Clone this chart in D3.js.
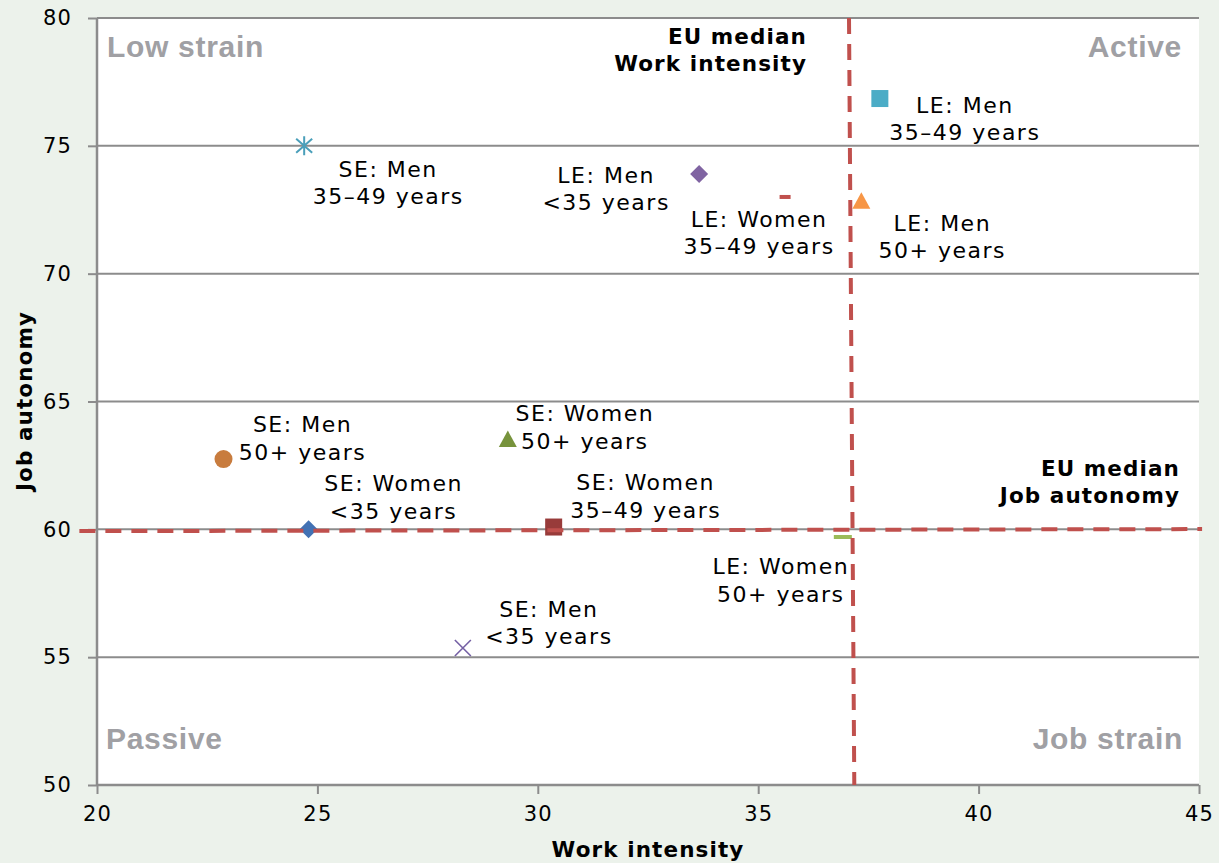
<!DOCTYPE html>
<html>
<head>
<meta charset="utf-8">
<script src="https://cdn.jsdelivr.net/npm/d3@7"></script>
<style>
  html, body { margin: 0; padding: 0; background: #ecf2eb; }
  svg { display: block; }
</style>
</head>
<body>
<svg id="chart" width="1219" height="863"></svg>
<script>
// ---- data ----
const groupLine1 = ["SE: Men", "LE: Men", "LE: Men", "LE: Women", "LE: Men", "SE: Men", "SE: Women", "SE: Women", "SE: Women", "LE: Women", "SE: Men"];
const groupLine2 = ["35–49 years", "35–49 years", "<35 years", "35–49 years", "50+ years", "50+ years", "50+ years", "<35 years", "35–49 years", "50+ years", "<35 years"];
const workIntensity = [24.70, 37.76, 33.66, 35.61, 37.34, 22.87, 29.32, 24.80, 30.36, 36.92, 28.30];
const jobAutonomy   = [75.00, 76.85, 73.90, 73.00, 72.85, 62.75, 63.53, 60.00, 60.09, 59.70, 55.36];

const xTicks = [20, 25, 30, 35, 40, 45];
const yTicks = [50, 55, 60, 65, 70, 75, 80];

// EU median reference lines (two points each)
const medianWorkX = [37.06, 37.18];
const medianWorkY = [80, 50];
const medianAutoX = [19.6, 45.07];
const medianAutoY = [59.93, 60.01];

const quadrantLabels = ["Low strain", "Active", "Passive", "Job strain"];

// ---- styles (not data) ----
const markerStyle = [
  {shape: "asterisk", color: "#4a9fba"},
  {shape: "square",   color: "#4bacc6"},
  {shape: "diamond",  color: "#8064a2"},
  {shape: "dash",     color: "#c0504d"},
  {shape: "triangle", color: "#f79646"},
  {shape: "circle",   color: "#c87c3e"},
  {shape: "triangle", color: "#77933c"},
  {shape: "diamond",  color: "#4272b4"},
  {shape: "square",   color: "#983b3a"},
  {shape: "dashwide", color: "#9bbb59"},
  {shape: "x",        color: "#7460a4"}
];
// label offset: [dx of centre, dy of first baseline] in px from marker
const labelOffset = [
  [84, 31], [85, 14], [-93, 9], [-26, 30], [81, 30], [79, -27],
  [77, -18], [85, -38], [92, -37], [-62, 37], [86, -31]
];

// ---- chart ----
const svg = d3.select("#chart");
const pLeft = 97, pRight = 1199, pTop = 18, pBottom = 785;
const x = d3.scaleLinear().domain([20, 45]).range([pLeft, pRight]);
const y = d3.scaleLinear().domain([50, 80]).range([pBottom, pTop]);

const gridColor = "#8c8c8c";

svg.append("rect").attr("x", pLeft).attr("y", pTop)
  .attr("width", pRight - pLeft).attr("height", pBottom - pTop).attr("fill", "#ffffff");

// gridlines
svg.append("g").selectAll("line").data(yTicks.filter(d => d > 50)).join("line")
  .attr("x1", pLeft).attr("x2", pRight)
  .attr("y1", d => y(d)).attr("y2", d => y(d))
  .attr("stroke", gridColor).attr("stroke-width", 2);

// axes
const yAxis = svg.append("g").attr("transform", `translate(${pLeft},0)`)
  .call(d3.axisLeft(y).tickValues(yTicks).tickSize(9).tickPadding(16));
const xAxis = svg.append("g").attr("transform", `translate(0,${pBottom})`)
  .call(d3.axisBottom(x).tickValues(xTicks).tickSize(9).tickPadding(12));
[yAxis, xAxis].forEach(g => {
  g.select(".domain").attr("stroke", gridColor).attr("stroke-width", 2.5);
  g.selectAll(".tick line").attr("stroke", gridColor).attr("stroke-width", 2);
  g.selectAll(".tick text").attr("fill", "#000")
    .style("font-family", "'DejaVu Sans', Verdana, sans-serif")
    .style("font-size", "21px").style("letter-spacing", "1.2px");
});
xAxis.select(".domain").attr("d", `M${pLeft},0H${pRight}`);
yAxis.select(".domain").attr("d", `M0,${pBottom}V${pTop}`);

// quadrant labels
const qPos = [
  {x: 107, y: 57, anchor: "start"},
  {x: 1182, y: 57, anchor: "end"},
  {x: 106, y: 749, anchor: "start"},
  {x: 1183, y: 749, anchor: "end"}
];
svg.append("g").selectAll("text").data(quadrantLabels).join("text")
  .attr("x", (d, i) => qPos[i].x).attr("y", (d, i) => qPos[i].y)
  .attr("text-anchor", (d, i) => qPos[i].anchor)
  .attr("fill", "#a0a0a4")
  .style("font-family", "'Liberation Sans', Arial, sans-serif")
  .style("font-weight", "bold").style("font-size", "30px").style("letter-spacing", "0.7px")
  .text(d => d);

// markers
const points = workIntensity.map((v, i) => ({wi: v, ja: jobAutonomy[i], i}));
const mg = svg.append("g");
points.forEach(p => {
  const cx = x(p.wi), cy = y(p.ja);
  const st = markerStyle[p.i];
  const c = st.color;
  const g = mg.append("g").attr("transform", `translate(${cx},${cy})`);
  if (st.shape === "square") {
    g.append("rect").attr("x", -8.5).attr("y", -8.5).attr("width", 17).attr("height", 17).attr("fill", c);
  } else if (st.shape === "diamond") {
    g.append("path").attr("d", "M0,-9L9,0L0,9L-9,0Z").attr("fill", c);
  } else if (st.shape === "triangle") {
    g.append("path").attr("d", "M0,-8.5L9,8L-9,8Z").attr("fill", c);
  } else if (st.shape === "circle") {
    g.append("circle").attr("r", 9).attr("fill", c);
  } else if (st.shape === "dash") {
    g.append("rect").attr("x", -5.5).attr("y", -2).attr("width", 11).attr("height", 4).attr("fill", c);
  } else if (st.shape === "dashwide") {
    g.append("rect").attr("x", -9).attr("y", -2).attr("width", 18).attr("height", 4).attr("fill", c);
  } else if (st.shape === "x") {
    g.append("path").attr("d", "M-8,-8L8,8M-8,8L8,-8").attr("stroke", c).attr("stroke-width", 1.6).attr("fill", "none");
  } else if (st.shape === "asterisk") {
    g.append("path").attr("d", "M0,-9.5V9.5M-8,-7L8,7M-8,7L8,-7").attr("stroke", c).attr("stroke-width", 2).attr("fill", "none");
  }
});

// median lines (on top)
const medColor = "#c0504d";
const lineGen = d3.line().x(d => x(d[0])).y(d => y(d[1]));
svg.append("path")
  .attr("d", lineGen(medianWorkX.map((v, i) => [v, medianWorkY[i]])))
  .attr("stroke", medColor).attr("stroke-width", 4).attr("fill", "none")
  .attr("stroke-dasharray", "16,10");
svg.append("path")
  .attr("d", lineGen(medianAutoX.map((v, i) => [v, medianAutoY[i]])))
  .attr("stroke", medColor).attr("stroke-width", 4).attr("fill", "none")
  .attr("stroke-dasharray", "16,10");

// point labels
const lg = svg.append("g")
  .style("font-family", "'DejaVu Sans', Verdana, sans-serif")
  .style("font-size", "22px").style("letter-spacing", "1.5px").attr("fill", "#000");
points.forEach(p => {
  const cx = x(p.wi) + labelOffset[p.i][0];
  const by = y(p.ja) + labelOffset[p.i][1];
  const t = lg.append("text").attr("text-anchor", "middle");
  t.append("tspan").attr("x", cx).attr("y", by).text(groupLine1[p.i]);
  t.append("tspan").attr("x", cx).attr("y", by + 27.5).text(groupLine2[p.i]);
});

// median annotations
const bold = svg.append("g")
  .style("font-family", "'DejaVu Sans', Verdana, sans-serif")
  .style("font-weight", "bold").style("font-size", "21.5px").style("letter-spacing", "1.1px")
  .attr("fill", "#000");
const wiLbl = bold.append("text").attr("text-anchor", "end");
wiLbl.append("tspan").attr("x", 807).attr("y", 44).text("EU median");
wiLbl.append("tspan").attr("x", 807).attr("y", 71).text("Work intensity");
const jaLbl = bold.append("text").attr("text-anchor", "end");
jaLbl.append("tspan").attr("x", 1180).attr("y", 476).text("EU median");
jaLbl.append("tspan").attr("x", 1180).attr("y", 503).text("Job autonomy");

// axis titles
bold.append("text").attr("text-anchor", "middle")
  .attr("x", 648).attr("y", 857).text("Work intensity");
bold.append("text").attr("text-anchor", "middle")
  .attr("transform", "translate(32,401) rotate(-90)").text("Job autonomy");
</script>
</body>
</html>
